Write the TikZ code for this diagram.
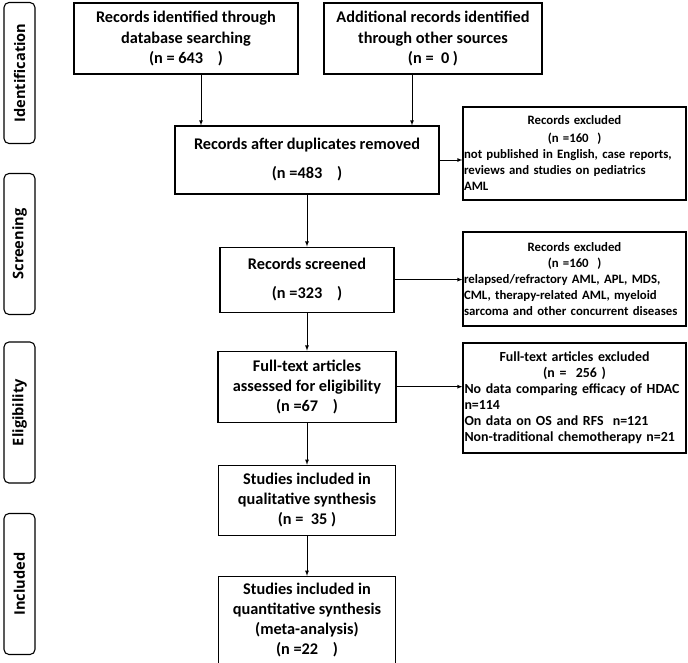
\documentclass[tikz,border=0pt]{standalone}
\usepackage{fontspec}
\setmainfont{Carlito}
\newfontfamily\phasefont{Open Sans}
\usetikzlibrary{arrows,shapes,positioning}
\tikzset{
  basic/.style    = {draw, line width=1.1pt, rectangle, inner sep=2pt},
  record/.style   = {basic, align=center, font=\fontsize{16.3}{20}\selectfont\bfseries},
  excluded/.style = {basic, align=left, text width=221pt, inner xsep=1pt,
                     font=\fontsize{12.8}{16}\selectfont\bfseries},
  excluded big/.style = {excluded, inner xsep=1.5pt, text width=220pt,
                     font=\fontsize{13.9}{16}\selectfont\bfseries},
  phase/.style    = {basic, rounded corners=5pt, minimum width=141pt, minimum height=31pt,
                     rotate=90, font=\phasefont\fontsize{14.6}{18}\selectfont\bfseries}
}
\newcommand{\ctr}[1]{\hfill #1\hfill\null}

\begin{document}
\begin{tikzpicture}[x=1pt, y=-1pt, >=latex, node distance=40pt]
\useasboundingbox (0,0) rectangle (688,662);

% phases on the left
\node[phase] (ident) at (19.5,73)  {Identification};
\node[phase] (screen) at (19.5,244) {Screening};
\node[phase] (elig) at (19.5,412.5) {Eligibility};
\node[phase] (incl) at (19.5,584) {Included};

% main column
\node[record, minimum width=224pt, minimum height=71pt] (src1) at (186,38.5)
  {Records identified through\\database searching\\(n = 643\ \ \ \ )};
\node[record, minimum width=218pt, minimum height=71pt] (src2) at (433,38.5)
  {Additional records identified\\through other sources\\(n =\ \ 0 )};
\node[record, minimum width=264pt, minimum height=68pt] (dup) at (307,160)
  {Records after duplicates removed\\[9pt](n =483\ \ \ \ )};
\node[record, minimum width=174pt, minimum height=65pt, below=52pt of dup] (scr)
  {Records screened\\[9pt](n =323\ \ \ \ )};
\node[record, minimum width=178pt, minimum height=71pt, below=38pt of scr] (full)
  {Full-text articles\\assessed for eligibility\\(n =67\ \ \ \ )};
\node[record, minimum width=177pt, minimum height=70pt, below=42pt of full] (qual)
  {Studies included in\\qualitative synthesis\\(n =\ \ 35 )};
\node[record, minimum width=177pt, minimum height=87pt, below=40pt of qual] (quant)
  {Studies included in\\quantitative synthesis\\(meta-analysis)\\(n =22\ \ \ \ )};

% excluded records on the right
\node[excluded, minimum height=93pt] (ex1) at (574.5,153.5)
  {\ctr{Records excluded}\\[2pt]\ctr{(n =160\ \ )}\\
   not published in English, case reports,\\reviews and studies on pediatrics\\AML};
\node[excluded, minimum height=94pt] (ex2) at (574.5,279)
  {\ctr{Records excluded}\\\ctr{(n =160\ \ )}\\
   relapsed/refractory AML, APL, MDS,\\CML, therapy-related AML, myeloid\\sarcoma and other concurrent diseases\\[4pt]};
\node[excluded big, minimum height=110pt] (ex3) at (574.5,398)
  {\ctr{Full-text articles excluded}\\\ctr{(n =\ \ 256 )}\\
   No data comparing efficacy of HDAC\\n=114\\On data on OS and RFS\ \ n=121\\Non-traditional chemotherapy n=21};

% connectors
\begin{scope}[line width=0.8pt]
\draw[->] ([xshift=15pt]src1.south) -- ([xshift=15pt]src1.south |- dup.north);
\draw[->] ([xshift=-21pt]src2.south) -- ([xshift=-21pt]src2.south |- dup.north);
\draw[->] (dup.south) -- (scr.north);
\draw[->] (scr.south) -- (full.north);
\draw[->] (full.south) -- (qual.north);
\draw[->] (qual.south) -- (quant.north);
\draw[->] (dup.east) -- (dup.east -| ex1.west);
\draw[->] (scr.east) -- (scr.east -| ex2.west);
\draw[->] (full.east) -- (full.east -| ex3.west);
\end{scope}
\end{tikzpicture}
\end{document}
